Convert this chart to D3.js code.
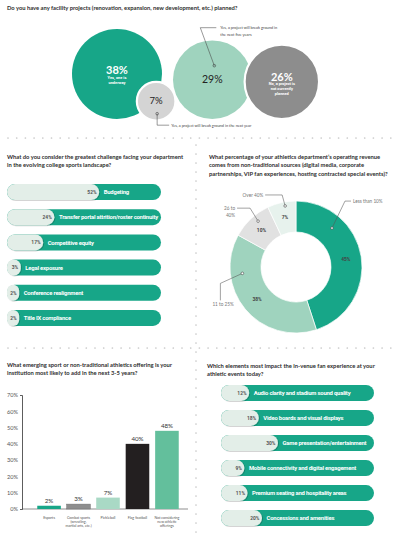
<!DOCTYPE html>
<html><head><meta charset="utf-8">
<script src="https://cdn.jsdelivr.net/npm/d3@7"></script>
<style>html,body{margin:0;padding:0;background:#fff;} svg{display:block;}</style>
</head><body>
<svg id="c" width="400" height="540"></svg>
<script>
// ---------------- DATA ----------------
const facilityLabels = ["Yes, one is underway", "Yes, a project will break ground in the next year", "Yes, a project will break ground in the next five years", "No, a project is not currently planned"];
const facilityValues = [38, 7, 29, 26];

const challengeLabels = ["Budgeting", "Transfer portal attrition/roster continuity", "Competitive equity", "Legal exposure", "Conference realignment", "Title IX compliance"];
const challengeValues = [52, 24, 17, 3, 2, 2];

const revenueLabels = ["Less than 10%", "11 to 25%", "26 to 40%", "Over 40%"];
const revenueValues = [45, 38, 10, 7];

const sportLabels = ["Esports", "Combat sports (wrestling, martial arts, etc.)", "Pickleball", "Flag football", "Not considering new athletic offerings"];
const sportValues = [2, 3, 7, 40, 48];
const sportTicks = [0, 10, 20, 30, 40, 50, 60, 70];

const fanLabels = ["Audio clarity and stadium sound quality", "Video boards and visual displays", "Game presentation/entertainment", "Mobile connectivity and digital engagement", "Premium seating and hospitality areas", "Concessions and amenities"];
const fanValues = [12, 18, 30, 9, 11, 20];

// ---------------- STYLE ----------------
const TEAL = "#17a688", LIGHT = "#e3eee8", MINT = "#9fd3be", GRAY = "#8d8d8d", LGRAY = "#d4d4d4";
const TITLE_FONT = "Lato, 'Open Sans', sans-serif";
const BOLD_FONT = "Roboto, 'Noto Sans', sans-serif";

const svg = d3.select("#c");
const defs = svg.append("defs");
const f = defs.append("filter").attr("id", "sh").attr("x", "-20%").attr("y", "-40%").attr("width", "160%").attr("height", "200%");
f.append("feDropShadow").attr("dx", 0.8).attr("dy", 0.6).attr("stdDeviation", 0.7).attr("flood-color", "#000").attr("flood-opacity", 0.28);

function title(x, y, lines, lh = 8.3) {
  const t = svg.append("text").attr("x", x).attr("y", y)
    .attr("font-family", TITLE_FONT).attr("font-weight", 700).attr("font-size", 5.8).attr("fill", "#2e2e2e");
  lines.forEach((l, i) => t.append("tspan").attr("x", x).attr("dy", i ? lh : 0).text(l));
}

// ---------------- DOTTED SEPARATORS ----------------
function dotsH(y, x0, x1, step) {
  svg.append("g").selectAll("circle").data(d3.range(x0, x1, step)).join("circle")
    .attr("cx", d => d).attr("cy", y).attr("r", 0.85).attr("fill", "#c9c9c9");
}
function dotsV(x, y0, y1, step) {
  svg.append("g").selectAll("circle").data(d3.range(y0, y1, step)).join("circle")
    .attr("cx", x).attr("cy", d => d).attr("r", 0.85).attr("fill", "#c9c9c9");
}
dotsH(138, 8, 398, 8.7);
dotsH(348, 8, 398, 8.7);
dotsV(196, 145, 540, 9);

// ---------------- PANEL 1: BUBBLES ----------------
title(7, 10, ["Do you have any facility projects (renovation, expansion, new development, etc.) planned?"]);
{
  const r = d3.scaleSqrt().domain([0, 38]).range([0, 45]);
  const baseY = 119, startX = 72;
  const bub = facilityLabels.map((l, i) => ({ l, v: facilityValues[i], r: r(facilityValues[i]) }));
  // chain the three big bubbles along a common baseline
  const chain = [0, 2, 3], gaps = [11, -7];
  let edge = startX;
  chain.forEach((k, j) => {
    const b = bub[k];
    b.cx = edge + b.r; b.cy = baseY - b.r;
    edge = b.cx + b.r + (gaps[j] || 0);
  });
  bub[1].cx = bub[0].cx + bub[0].r * 0.87; bub[1].cy = baseY - bub[1].r + 1.5;
  const fills = [TEAL, LGRAY, MINT, GRAY];
  const strokes = [null, "#fff", null, "#fff"];
  const g = svg.append("g");
  [0, 2, 3, 1].forEach(k => {
    const b = bub[k];
    g.append("circle").attr("cx", b.cx).attr("cy", b.cy).attr("r", b.r).attr("fill", fills[k])
      .attr("stroke", strokes[k] || "none").attr("stroke-width", strokes[k] ? 2.2 : 0);
  });
  // inside labels
  const inside = { 0: ["Yes, one is", "underway"], 3: ["No, a project is", "not currently", "planned"] };
  [0, 3].forEach(k => {
    const b = bub[k];
    const dy = k === 0 ? 0 : -1;
    g.append("text").attr("x", b.cx).attr("y", b.cy + dy).attr("text-anchor", "middle")
      .attr("font-family", TITLE_FONT).attr("font-weight", 700).attr("font-size", 11).attr("fill", "#fff").text(b.v + "%");
    const t = g.append("text").attr("text-anchor", "middle").attr("font-family", BOLD_FONT).attr("font-weight", 700)
      .attr("font-size", 3.9).attr("fill", "#fff");
    inside[k].forEach((s, i) => t.append("tspan").attr("x", b.cx).attr("y", b.cy + dy + 4.6 + i * 5).text(s));
  });
  [2, 1].forEach(k => {
    const b = bub[k];
    g.append("text").attr("x", b.cx).attr("y", b.cy + (k === 2 ? 3.8 : 3.3)).attr("text-anchor", "middle")
      .attr("font-family", TITLE_FONT).attr("font-weight", 400).attr("font-size", k === 2 ? 10.5 : 9.5).attr("fill", "#222").text(b.v + "%");
  });
  // callouts
  const call = [
    { k: 2, m: [2, -14], pts: [[0, 0], [-14, -38], [2, -38]], t: [6, -36.6], lines: ["Yes, a project will break ground in", "the next five years"] },
    { k: 1, m: [1, 12.5], pts: [[0, 0], [0, 11.5], [12, 11.5]], t: [14, 12.9], lines: ["Yes, a project will break ground in the next year"] }
  ];
  call.forEach(c => {
    const b = bub[c.k];
    const mx = b.cx + c.m[0], my = b.cy + c.m[1];
    g.append("path").attr("d", d3.line()(c.pts.map(p => [mx + p[0], my + p[1]]))).attr("fill", "none")
      .attr("stroke", "#444").attr("stroke-width", 0.55);
    g.append("circle").attr("cx", mx).attr("cy", my).attr("r", 1.3).attr("fill", "none").attr("stroke", "#333").attr("stroke-width", 0.55);
    const t = g.append("text").attr("font-family", TITLE_FONT).attr("font-size", 3.9).attr("fill", "#444");
    c.lines.forEach((s, i) => t.append("tspan").attr("x", mx + c.t[0]).attr("y", my + c.t[1] + i * 6.8).text(s));
  });
}

// ---------------- PILL BARS ----------------
const pillW = d3.scaleLinear().domain([0, 100]).range([9, 169]);
function pills(labels, values, x0, x1, yRange) {
  const y = d3.scaleBand().domain(labels).range(yRange).paddingInner(0.365).paddingOuter(0.18);
  const bh = y.bandwidth();
  const rows = svg.append("g").selectAll("g").data(labels.map((l, i) => ({ l, v: values[i] }))).join("g")
    .attr("transform", d => `translate(0,${y(d.l)})`);
  rows.append("rect").attr("x", x0).attr("width", x1 - x0).attr("height", bh).attr("rx", bh / 2).attr("fill", TEAL);
  rows.append("rect").attr("x", x0).attr("width", d => pillW(d.v)).attr("height", bh).attr("rx", d => Math.min(bh / 2, pillW(d.v) / 2))
    .attr("fill", LIGHT).attr("filter", "url(#sh)");
  rows.append("text").attr("x", d => x0 + pillW(d.v) - 2.6).attr("y", bh / 2 + 1.8).attr("text-anchor", "end")
    .attr("font-family", BOLD_FONT).attr("font-weight", 700).attr("font-size", 4.9).attr("fill", "#555").text(d => d.v + "%");
  rows.append("text").attr("x", d => x0 + pillW(d.v) + 4.5).attr("y", bh / 2 + 2.1)
    .attr("font-family", BOLD_FONT).attr("font-weight", 700).attr("font-size", 5.9).attr("letter-spacing", -0.2).attr("fill", "#fff")
    .text(d => d.l)
    .each(function (d) {
      const avail = x1 - (x0 + pillW(d.v) + 4.5) - 3;
      if (this.getComputedTextLength() > avail) {
        d3.select(this).attr("textLength", avail).attr("lengthAdjust", "spacingAndGlyphs");
      }
    });
}

// ---------------- PANEL 2 ----------------
title(7, 159, ["What do you consider the greatest challenge facing your department", "in the evolving college sports landscape?"]);
pills(challengeLabels, challengeValues, 7, 161, [179.5, 330.5]);

// ---------------- PANEL 3: DONUT ----------------
title(209, 159, ["What percentage of your athletics department\u2019s operating revenue", "comes from non-traditional sources (digital media, corporate", "partnerships, VIP fan experiences, hosting contracted special events)?"]);
{
  const cx = 296, cy = 267, r0 = 35, r1 = 66;
  const g = svg.append("g").attr("transform", `translate(${cx},${cy})`);
  const pie = d3.pie().sort(null).value(d => d.v);
  const arcs = pie(revenueLabels.map((l, i) => ({ l, v: revenueValues[i] })));
  const colors = [TEAL, MINT, "#e1e1e1", "#e7f2ed"];
  const arc = d3.arc().innerRadius(r0).outerRadius(r1);
  g.selectAll("path").data(arcs).join("path").attr("d", arc).attr("fill", (d, i) => colors[i])
    .attr("stroke", "#fff").attr("stroke-width", 0.7);
  const mid = d3.arc().innerRadius(r0).outerRadius(r1);
  g.selectAll("text.v").data(arcs).join("text").attr("class", "v")
    .attr("x", d => mid.centroid(d)[0]).attr("y", d => mid.centroid(d)[1] + 1.7).attr("text-anchor", "middle")
    .attr("font-family", BOLD_FONT).attr("font-weight", 700).attr("font-size", 4.9).attr("fill", "#444").text(d => d.data.v + "%");
  // callouts: marker position fraction within slice and radius, then leader offsets
  const call = [
    { t: 0.264, r: 53, pts: [[0, 0], [13, -27], [19, -27]], tx: [21, -25.3], anchor: "start", lines: ["Less than 10%"] },
    { t: 0.74, r: 54, pts: [[0, 0], [-22, 10], [-22, 27]], tx: [-30, 33], anchor: "start", lines: ["11 to 25%"] },
    { t: 0.6, r: 59.5, pts: [[0, 0], [-8, -13], [-21, -13]], tx: [-23, -11.3], anchor: "end", lines: ["26 to", "40%"] },
    { t: 0.6, r: 62, pts: [[0, 0], [-3, -11], [-20, -11]], tx: [-22, -9.3], anchor: "end", lines: ["Over 40%"] }
  ];
  arcs.forEach((a, i) => {
    const c = call[i];
    const ang = a.startAngle + (a.endAngle - a.startAngle) * c.t;
    const mx = Math.sin(ang) * c.r, my = -Math.cos(ang) * c.r;
    g.append("path").attr("d", d3.line()(c.pts.map(p => [mx + p[0], my + p[1]]))).attr("fill", "none")
      .attr("stroke", "#555").attr("stroke-width", 0.55);
    g.append("circle").attr("cx", mx).attr("cy", my).attr("r", 1.3).attr("fill", "#fff").attr("stroke", "#333").attr("stroke-width", 0.55);
    const t = g.append("text").attr("text-anchor", c.anchor).attr("font-family", TITLE_FONT).attr("font-size", 4.7).attr("fill", "#777");
    c.lines.forEach((s, j) => t.append("tspan").attr("x", mx + c.tx[0]).attr("y", my + c.tx[1] + j * 7.5).text(s));
  });
}

// ---------------- PANEL 4: COLUMN CHART ----------------
title(7, 367, ["What emerging sport or non-traditional athletics offering is your", "institution most likely to add in the next 3-5 years?"]);
{
  const x = d3.scaleBand().domain(sportLabels).range([24, 192]).paddingInner(0.2).paddingOuter(0.45);
  const y = d3.scaleLinear().domain([0, 70]).range([509, 395]);
  const ax = 22;
  const yAxis = d3.axisLeft(y).tickValues(sportTicks).tickFormat(d => d + "%").tickSize(0).tickSizeOuter(2).tickPadding(4);
  const ga = svg.append("g").attr("transform", `translate(${ax},0)`).call(yAxis);
  ga.select(".domain").attr("stroke", "#333").attr("stroke-width", 0.8);
  ga.selectAll("text").attr("font-family", TITLE_FONT).attr("font-size", 5.6).attr("fill", "#555");
  svg.append("line").attr("x1", ax).attr("x2", 188).attr("y1", y(0)).attr("y2", y(0)).attr("stroke", "#444").attr("stroke-width", 0.6);
  const colors = [TEAL, "#8e8e8e", "#a9d9c5", "#231f20", "#63bf9c"];
  const data = sportLabels.map((l, i) => ({ l, v: sportValues[i], c: colors[i] }));
  svg.append("g").selectAll("rect").data(data).join("rect")
    .attr("x", d => x(d.l)).attr("width", x.bandwidth()).attr("y", d => y(d.v)).attr("height", d => y(0) - y(d.v))
    .attr("fill", d => d.c).attr("stroke", (d, i) => i === 1 ? "#6f6f6f" : "none").attr("stroke-width", 0.5);
  svg.append("g").selectAll("text").data(data).join("text")
    .attr("x", d => x(d.l) + x.bandwidth() / 2).attr("y", d => y(d.v) - 3).attr("text-anchor", "middle")
    .attr("font-family", TITLE_FONT).attr("font-size", 6.2).attr("fill", "#333").text(d => d.v + "%");
  const lines = { "Combat sports (wrestling, martial arts, etc.)": ["Combat sports", "(wrestling,", "martial arts, etc.)"],
                  "Not considering new athletic offerings": ["Not considering", "new athletic", "offerings"] };
  const xl = svg.append("g").selectAll("text").data(data).join("text").attr("text-anchor", "middle")
    .attr("font-family", TITLE_FONT).attr("font-size", 3.6).attr("fill", "#555");
  xl.each(function (d) {
    const ls = lines[d.l] || [d.l];
    ls.forEach((s, i) => d3.select(this).append("tspan").attr("x", x(d.l) + x.bandwidth() / 2).attr("y", 518.5 + i * 4.3).text(s));
  });
}

// ---------------- PANEL 5 ----------------
title(207, 368, ["Which elements most impact the in-venue fan experience at your", "athletic events today?"]);
pills(fanLabels, fanValues, 221, 374, [380.5, 530.5]);
</script>
</body></html>
